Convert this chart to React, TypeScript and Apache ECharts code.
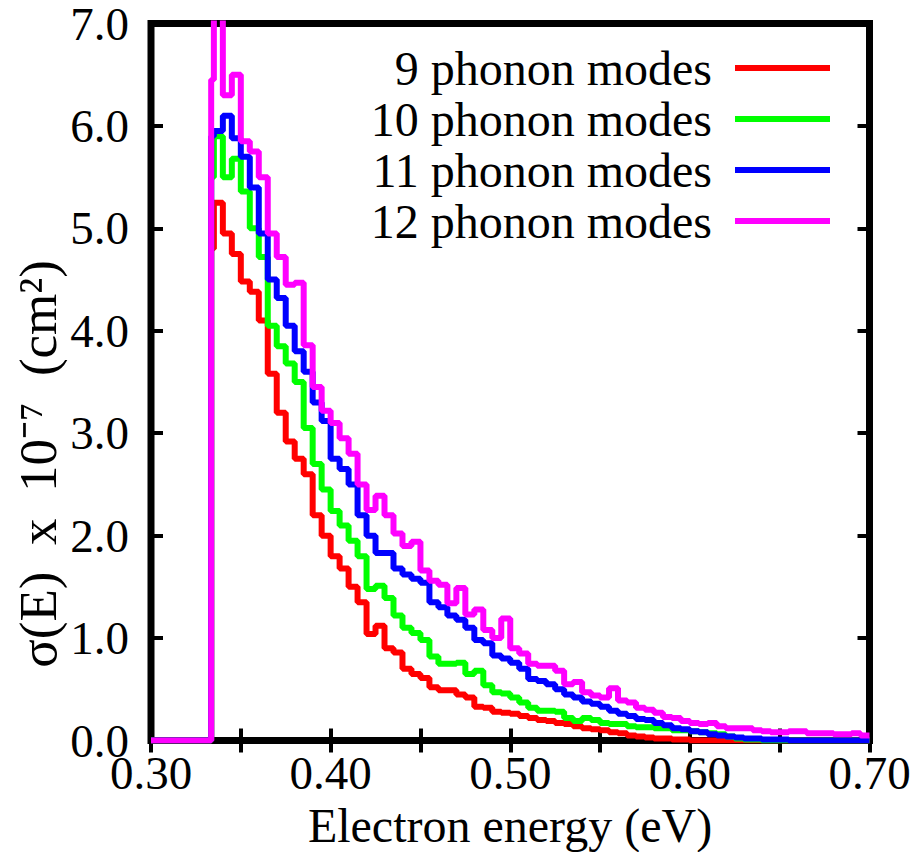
import React, { useEffect, useRef } from "react";
import * as echarts from "echarts";

// Left edges of the histogram bins (eV)
const binEdges = [
  0.3335, 0.335, 0.34, 0.345, 0.35, 0.355, 0.36, 0.365, 0.37, 0.375,
  0.38, 0.385, 0.39, 0.395, 0.4, 0.405, 0.41, 0.415, 0.42, 0.425,
  0.43, 0.435, 0.44, 0.445, 0.45, 0.455, 0.46, 0.465, 0.47, 0.475,
  0.48, 0.485, 0.49, 0.495, 0.5, 0.505, 0.51, 0.515, 0.52, 0.525,
  0.53, 0.535, 0.54, 0.545, 0.55, 0.555, 0.56, 0.565, 0.57, 0.575,
  0.58, 0.585, 0.59, 0.595, 0.6, 0.605, 0.61, 0.615, 0.62, 0.625,
  0.63, 0.635, 0.64, 0.645, 0.65, 0.655, 0.66, 0.665, 0.67, 0.675,
  0.68, 0.685, 0.69, 0.695,
];
const xStart = 0.3;
const xEnd = 0.7;

const modes9 = [
  4.8, 5.25, 4.95, 4.75, 4.48, 4.38, 4.1, 3.58, 3.2, 2.92,
  2.75, 2.6, 2.2, 2.0, 1.8, 1.68, 1.5, 1.35, 1.04, 1.12,
  0.9, 0.86, 0.7, 0.65, 0.61, 0.52, 0.49, 0.49, 0.45, 0.42,
  0.33, 0.32, 0.28, 0.27, 0.26, 0.24, 0.22, 0.2, 0.19, 0.17,
  0.16, 0.14, 0.12, 0.11, 0.1, 0.08, 0.07, 0.05, 0.04, 0.03,
  0.02, 0.02, 0.01, 0.01, 0, 0, 0, 0, 0, 0,
  0, 0, 0, 0, 0, 0, 0, 0, 0, 0,
  0, 0, 0, 0,
];
const modes10 = [
  5.5, 5.9, 5.5, 5.68, 5.36, 5.0, 4.72, 4.05, 3.85, 3.68,
  3.5, 3.05, 2.7, 2.45, 2.24, 2.1, 1.95, 1.8, 1.48, 1.51,
  1.39, 1.22, 1.1, 1.05, 0.98, 0.82, 0.75, 0.75, 0.76, 0.65,
  0.68, 0.54, 0.47, 0.46, 0.42, 0.37, 0.32, 0.29, 0.29, 0.28,
  0.22, 0.19, 0.22, 0.2, 0.17, 0.16, 0.16, 0.14, 0.13, 0.13,
  0.12, 0.12, 0.1, 0.1, 0.09, 0.08, 0.07, 0.06, 0.04, 0.02,
  0.01, 0.01, 0, 0, 0, 0, 0, 0, 0, 0,
  0, 0, 0, 0,
];
const modes11 = [
  5.9, 5.95, 6.1, 5.88, 5.7, 5.4, 4.95, 4.5, 4.32, 4.05,
  3.8, 3.6, 3.3, 3.12, 2.75, 2.65, 2.5, 2.2, 2.0, 1.83,
  1.83, 1.68, 1.62, 1.58, 1.54, 1.35, 1.3, 1.22, 1.18, 1.1,
  0.98, 0.95, 0.83, 0.8, 0.76, 0.7, 0.6, 0.58, 0.55, 0.5,
  0.45, 0.42, 0.38, 0.36, 0.33, 0.29, 0.26, 0.24, 0.21, 0.2,
  0.17, 0.15, 0.12, 0.11, 0.09, 0.08, 0.06, 0.05, 0.04, 0.03,
  0.02, 0.02, 0.01, 0.01, 0.01, 0, 0, 0, 0, 0,
  0, 0, 0, 0,
];
const modes12 = [
  6.45, 7.3, 6.3, 6.5, 5.85, 5.75, 5.5, 4.95, 4.72, 4.45,
  4.47, 3.86, 3.45, 3.22, 3.1, 2.95, 2.8, 2.5, 2.25, 2.39,
  2.2, 2.02, 1.9, 1.94, 1.66, 1.56, 1.52, 1.34, 1.49, 1.23,
  1.28, 1.08, 1.0, 1.19, 0.9, 0.85, 0.75, 0.73, 0.73, 0.68,
  0.55, 0.57, 0.47, 0.44, 0.42, 0.51, 0.39, 0.37, 0.32, 0.3,
  0.27, 0.23, 0.22, 0.19, 0.17, 0.16, 0.17, 0.14, 0.12, 0.12,
  0.12, 0.1, 0.09, 0.08, 0.08, 0.09, 0.09, 0.07, 0.07, 0.07,
  0.06, 0.06, 0.07, 0.05,
];

const seriesNames = ["9 phonon modes", "10 phonon modes", "11 phonon modes", "12 phonon modes"];
const seriesValues = [modes9, modes10, modes11, modes12];
const seriesColors = ["#ff0000", "#00ff00", "#0000ff", "#ff00ff"];

const xAxisTitle = "Electron energy (eV)";
const yAxisTitle = "σ(E)  x  10⁻⁷  (cm²)";

const FONT = '"Liberation Serif", "Times New Roman", serif';

function toSteps(vals: number[]) {
  const pts: number[][] = [[xStart, 0]];
  vals.forEach((v, i) => pts.push([binEdges[i], v]));
  pts.push([xEnd, vals[vals.length - 1]]);
  return pts;
}

export default function App() {
  const ref = useRef<HTMLDivElement>(null);

  useEffect(() => {
    if (!ref.current) return;
    const chart = echarts.init(ref.current, undefined, { renderer: "svg" });

    const gridL = 151;
    const gridT = 23;
    const gridR = 869.5;
    const gridB = 740.5;
    const legendY = [68, 119, 170, 221];

    const tickStyle = { show: true, inside: true, length: 12, lineStyle: { color: "#000", width: 4 } };
    const labelStyle = { color: "#000", fontSize: 47, fontFamily: FONT, lineHeight: 38 };

    const xFmt = (v: number) => {
      const k = Math.round(v * 100);
      return k % 10 === 0 ? (k / 100).toFixed(2) : "";
    };

    const option: any = {
      animation: false,
      backgroundColor: "#fff",
      textStyle: { fontFamily: FONT },
      grid: {
        left: gridL,
        top: gridT,
        right: 916 - gridR,
        bottom: 852 - gridB,
        show: true,
        borderColor: "#000",
        borderWidth: 7,
        backgroundColor: "transparent",
      },
      xAxis: [
        {
          type: "value",
          min: 0.3,
          max: 0.7,
          interval: 0.05,
          position: "bottom",
          axisLine: { show: false },
          axisTick: tickStyle,
          splitLine: { show: false },
          axisLabel: { ...labelStyle, margin: 13, formatter: xFmt },
        },
        {
          type: "value",
          min: 0.3,
          max: 0.7,
          interval: 0.05,
          position: "top",
          axisLine: { show: false },
          axisTick: tickStyle,
          splitLine: { show: false },
          axisLabel: { show: false },
        },
      ],
      yAxis: [
        {
          type: "value",
          min: 0,
          max: 7,
          interval: 1,
          position: "left",
          axisLine: { show: false },
          axisTick: tickStyle,
          splitLine: { show: false },
          axisLabel: { ...labelStyle, margin: 22, formatter: (v: number) => v.toFixed(1) },
        },
        {
          type: "value",
          min: 0,
          max: 7,
          interval: 1,
          position: "right",
          axisLine: { show: false },
          axisTick: tickStyle,
          splitLine: { show: false },
          axisLabel: { show: false },
        },
      ],
      series: seriesNames.map((name, i) => ({
        name,
        type: "line",
        step: "end",
        xAxisIndex: 0,
        yAxisIndex: 0,
        symbol: "none",
        data: toSteps(seriesValues[i]),
        lineStyle: { color: seriesColors[i], width: 6 },
        itemStyle: { color: seriesColors[i] },
        z: 2 + i,
      })),
      graphic: [
        ...seriesNames.flatMap((name, i) => [
          {
            type: "text",
            x: 712,
            y: legendY[i],
            style: {
              text: name,
              fill: "#000",
              fontSize: 48,
              fontFamily: FONT,
              align: "right",
              verticalAlign: "middle",
            },
          },
          {
            type: "line",
            shape: { x1: 735, y1: legendY[i], x2: 830, y2: legendY[i] },
            style: { stroke: seriesColors[i], lineWidth: 6 },
          },
        ]),
        {
          type: "text",
          x: 510,
          y: 825,
          style: {
            text: xAxisTitle,
            fill: "#000",
            fontSize: 48,
            fontFamily: FONT,
            align: "center",
            verticalAlign: "middle",
          },
        },
        {
          type: "text",
          x: 38,
          y: 464,
          rotation: Math.PI / 2,
          style: {
            text: yAxisTitle,
            fill: "#000",
            fontSize: 53,
            fontFamily: FONT,
            align: "center",
            verticalAlign: "middle",
          },
        },
      ],
    };

    chart.setOption(option);
    return () => chart.dispose();
  }, []);

  return (
    <div
      ref={ref}
      style={{ position: "fixed", left: 0, top: 0, width: 916, height: 852, background: "#fff" }}
    />
  );
}
